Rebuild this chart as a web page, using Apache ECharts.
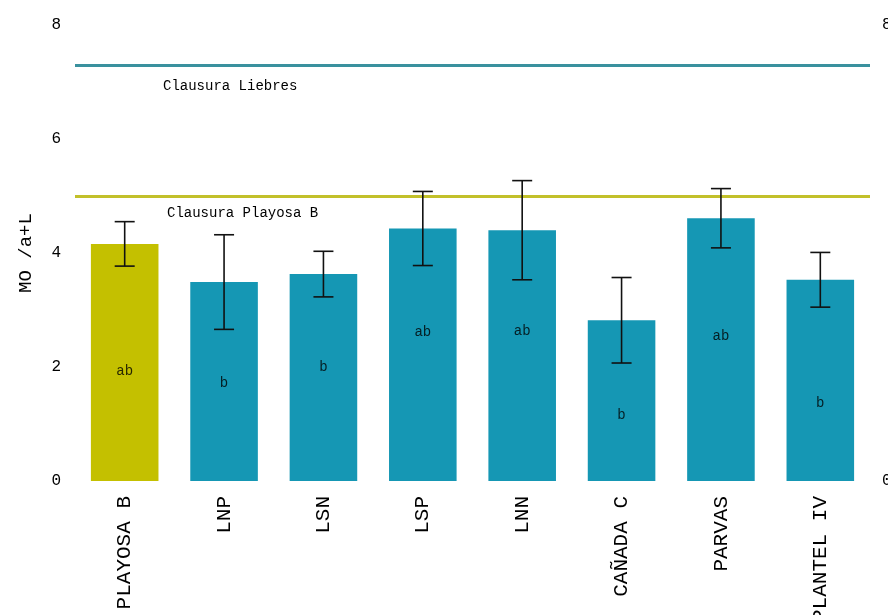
<!DOCTYPE html>
<html>
<head>
<meta charset="utf-8">
<script src="https://cdn.jsdelivr.net/npm/echarts@6/dist/echarts.min.js"></script>
<style>
  html, body { margin: 0; padding: 0; background: #ffffff; }
  #chart { width: 888px; height: 615px; }
</style>
</head>
<body>
<div id="chart"></div>
<script>
// Site names along the x axis
const categories = ['PLAYOSA B', 'LNP', 'LSN', 'LSP', 'LNN', 'CAÑADA C', 'PARVAS', 'PLANTEL IV'];
// Mean MO /a+L per site and the half-width of its error bar
const means = [4.16, 3.49, 3.63, 4.43, 4.40, 2.82, 4.61, 3.53];
const errors = [0.39, 0.83, 0.40, 0.65, 0.87, 0.75, 0.52, 0.48];
// Significance letters and the height (axis units) at which each is written
const letters = ['ab', 'b', 'b', 'ab', 'ab', 'b', 'ab', 'b'];
const letterHeights = [1.93, 1.72, 2.00, 2.61, 2.63, 1.16, 2.54, 1.37];
// Reference levels
const refLevels = [
  { name: 'Clausura Liebres', value: 7.30 },
  { name: 'Clausura Playosa B', value: 5.00 }
];
// Left axis ticks
const yMin = 0, yMax = 8, yStep = 2;

const FONT = '"Liberation Mono", "DejaVu Sans Mono", monospace';
const OLIVE = '#c4c000';
const TEAL = '#1597b4';

const chart = echarts.init(document.getElementById('chart'), null, { renderer: 'canvas' });

const barData = means.map((v, i) => ({
  value: v,
  itemStyle: { color: i === 0 ? OLIVE : TEAL }
}));

const errData = means.map((v, i) => [i, v - errors[i], v + errors[i]]);
const letterData = letterHeights.map((h, i) => ({ value: [i, h], label: { formatter: letters[i] } }));

chart.setOption({
  animation: false,
  backgroundColor: '#ffffff',
  grid: { left: 75, right: 18, top: 25, bottom: 134, containLabel: false, outerBoundsMode: 'none' },
  xAxis: {
    type: 'category',
    data: categories,
    axisLine: { show: false },
    axisTick: { show: false },
    axisLabel: {
      rotate: 90,
      margin: 15,
      color: '#000',
      fontFamily: FONT,
      fontSize: 21,
      interval: 0
    }
  },
  yAxis: [
    {
      type: 'value',
      min: yMin, max: yMax, interval: yStep,
      name: 'MO /a+L',
      nameLocation: 'middle',
      nameGap: 40,
      nameRotate: 90,
      nameTextStyle: { color: '#000', fontFamily: FONT, fontSize: 19 },
      axisLine: { show: false },
      axisTick: { show: false },
      splitLine: { show: false },
      axisLabel: { color: '#000', fontFamily: FONT, fontSize: 16, margin: 14 }
    },
    {
      type: 'value',
      position: 'right',
      min: yMin, max: yMax, interval: yMax,
      axisLine: { show: false },
      axisTick: { show: false },
      splitLine: { show: false },
      axisLabel: { color: '#000', fontFamily: FONT, fontSize: 16, margin: 12 }
    }
  ],
  series: [
    {
      type: 'bar',
      data: barData,
      barCategoryGap: '32%',
      z: 2,
      markLine: {
        silent: true,
        symbol: ['none', 'none'],
        data: refLevels.map((r, i) => ({
          yAxis: r.value,
          name: r.name,
          lineStyle: { color: i === 0 ? '#3a919e' : '#c2c02a', width: 3, type: 'solid' },
          label: {
            show: true,
            formatter: r.name,
            position: 'insideStartBottom',
            distance: i === 0 ? [88, 14] : [92, 10],
            color: '#000',
            fontFamily: FONT,
            fontSize: 14
          }
        }))
      }
    },
    {
      type: 'custom',
      z: 5,
      data: errData,
      renderItem: function (params, api) {
        const x = api.value(0);
        const lo = api.coord([x, api.value(1)]);
        const hi = api.coord([x, api.value(2)]);
        const half = 10;
        const style = { stroke: '#111', lineWidth: 1.6 };
        return {
          type: 'group',
          children: [
            { type: 'line', shape: { x1: hi[0], y1: hi[1], x2: lo[0], y2: lo[1] }, style },
            { type: 'line', shape: { x1: hi[0] - half, y1: hi[1], x2: hi[0] + half, y2: hi[1] }, style },
            { type: 'line', shape: { x1: lo[0] - half, y1: lo[1], x2: lo[0] + half, y2: lo[1] }, style }
          ]
        };
      }
    },
    {
      type: 'scatter',
      data: letterData,
      symbolSize: 0,
      z: 6,
      label: {
        show: true,
        position: 'inside',
        color: '#000',
        fontFamily: FONT,
        fontSize: 14
      }
    }
  ]
});
</script>
</body>
</html>
